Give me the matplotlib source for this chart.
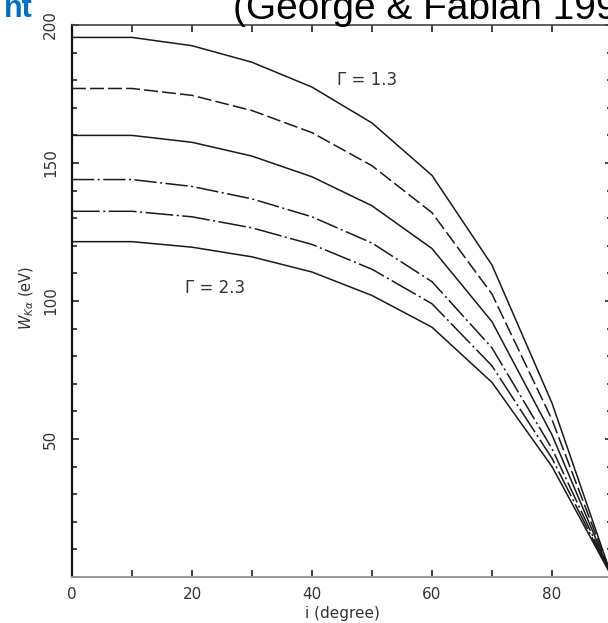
import numpy as np
import matplotlib
matplotlib.use("Agg")
import matplotlib.pyplot as plt
from matplotlib.ticker import MultipleLocator, FixedLocator

plt.rcParams['lines.scale_dashes'] = False

# inclination angle (degrees) and Fe K-alpha equivalent width (eV) per photon index
incl = [0, 10, 20, 30, 40, 50, 60, 70, 80, 90]
ew_g13 = [195.5, 195.5, 192.5, 186.5, 177.5, 164.5, 145.5, 113.0, 63.0, 0]
ew_g15 = [177.0, 177.0, 174.5, 169.0, 161.0, 149.0, 132.0, 102.5, 57.0, 0]
ew_g17 = [160.0, 160.0, 157.5, 152.5, 145.0, 134.5, 119.0, 92.5, 51.5, 0]
ew_g19 = [144.0, 144.0, 141.5, 137.0, 130.5, 121.0, 107.0, 83.0, 46.5, 0]
ew_g21 = [132.5, 132.5, 130.5, 126.5, 120.5, 111.5, 99.0, 76.5, 43.0, 0]
ew_g23 = [121.5, 121.5, 119.5, 116.0, 110.5, 102.0, 90.5, 70.5, 40.0, 0]

curves = [ew_g13, ew_g15, ew_g17, ew_g19, ew_g21, ew_g23]
dash_styles = [None, (10, 3), None, (16, 2.5, 1.5, 2.5), (20, 2.5, 1.5, 2.5), None]

fig = plt.figure(figsize=(6.08, 6.23), dpi=100)
ax = fig.add_axes([72/608, 46/623, 540/608, 552/623])

for ew, ds in zip(curves, dash_styles):
    line, = ax.plot(incl, ew, color='#1a1a1a', lw=1.1)
    if ds is not None:
        line.set_dashes(ds)

ax.set_xlim(0, 90)
ax.set_ylim(0, 200)

ax.xaxis.set_major_locator(MultipleLocator(20))
ax.xaxis.set_minor_locator(FixedLocator([10, 30, 50, 70, 90]))
ax.yaxis.set_major_locator(MultipleLocator(50))
ax.yaxis.set_minor_locator(MultipleLocator(10))
ax.set_yticks([0, 50, 100, 150, 200])
ax.set_yticklabels(['', '50', '100', '150', '200'])

ax.tick_params(which='both', direction='in', top=True, right=True,
               color='#111', width=1.1, labelcolor='#333', labelsize=11)
ax.tick_params(which='major', length=5)
ax.tick_params(which='minor', length=3.3)
ax.tick_params(axis='x', which='minor', length=5)
ax.tick_params(axis='x', pad=7)
ax.tick_params(axis='y', pad=10, labelrotation=90)
plt.setp(ax.get_yticklabels(), va='center')

ax.spines['left'].set_color('#111')
ax.spines['left'].set_linewidth(1.6)
ax.spines['top'].set_color('#444')
ax.spines['top'].set_linewidth(1.2)
ax.spines['bottom'].set_color('#999')
ax.spines['bottom'].set_linewidth(1.4)

ax.set_xlabel('i (degree)', fontsize=11, color='#333', labelpad=3)
fig.text(27/608, 1 - 298/623, r'$W_{K\alpha}$ (eV)', rotation=90,
         ha='center', va='center', fontsize=10.5, color='#333')

ax.text(44.2, 180, '\u0393 = 1.3', fontsize=12, color='#333', va='center')
ax.text(18.8, 104.7, '\u0393 = 2.3', fontsize=12, color='#333', va='center')

fig.text(233/608, 1 - 19/623, '(George & Fabian 1991)', fontsize=28,
         family='Liberation Sans', color='black', va='baseline', ha='left')
fig.text(33/608, 1 - 17/623, 'nt', fontsize=22, fontweight='bold',
         family='Liberation Sans', color='#0070C0', va='baseline', ha='right')

fig.savefig('out.png', dpi=100)
